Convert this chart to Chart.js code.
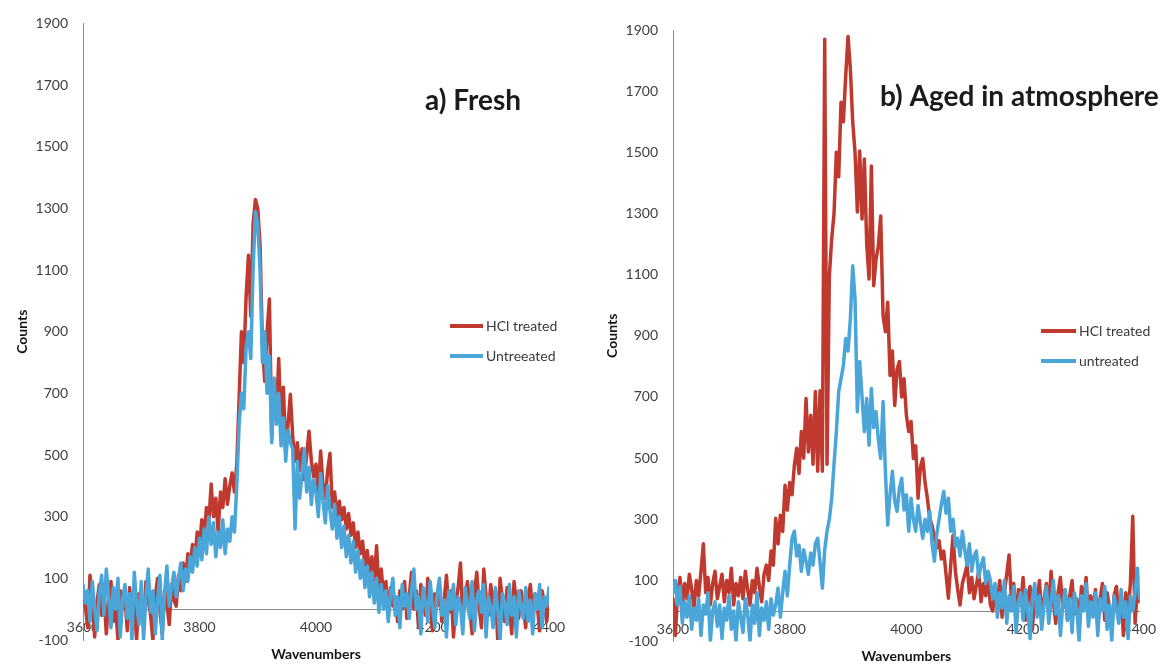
<!DOCTYPE html>
<html>
<head>
<meta charset="utf-8">
<script src="https://cdn.jsdelivr.net/npm/chart.js@4.4.1/dist/chart.umd.min.js"></script>
<style>
  html, body { margin: 0; padding: 0; background: #ffffff; }
  #wrap { position: relative; width: 1166px; height: 665px; overflow: hidden; }
  .panel { position: absolute; top: 0; width: 583px; height: 665px; }
</style>
</head>
<body>
<div id="wrap">
  <div class="panel" style="left:0"><canvas id="fresh" width="583" height="665"></canvas></div>
  <div class="panel" style="left:583px"><canvas id="aged" width="583" height="665"></canvas></div>
</div>
<script>
// Raman shift grid (cm-1), shared by every spectrum
const wavenumbers = [
  3600,3604,3608,3612,3616,3620,3624,3628,3632,3636,
  3640,3644,3648,3652,3656,3660,3664,3668,3672,3676,
  3680,3684,3688,3692,3696,3700,3704,3708,3712,3716,
  3720,3724,3728,3732,3736,3740,3744,3748,3752,3756,
  3760,3764,3768,3772,3776,3780,3784,3788,3792,3796,
  3800,3804,3808,3812,3816,3820,3824,3828,3832,3836,
  3840,3844,3848,3852,3856,3860,3864,3868,3872,3876,
  3880,3884,3888,3892,3896,3900,3904,3908,3912,3916,
  3920,3924,3928,3932,3936,3940,3944,3948,3952,3956,
  3960,3964,3968,3972,3976,3980,3984,3988,3992,3996,
  4000,4004,4008,4012,4016,4020,4024,4028,4032,4036,
  4040,4044,4048,4052,4056,4060,4064,4068,4072,4076,
  4080,4084,4088,4092,4096,4100,4104,4108,4112,4116,
  4120,4124,4128,4132,4136,4140,4144,4148,4152,4156,
  4160,4164,4168,4172,4176,4180,4184,4188,4192,4196,
  4200,4204,4208,4212,4216,4220,4224,4228,4232,4236,
  4240,4244,4248,4252,4256,4260,4264,4268,4272,4276,
  4280,4284,4288,4292,4296,4300,4304,4308,4312,4316,
  4320,4324,4328,4332,4336,4340,4344,4348,4352,4356,
  4360,4364,4368,4372,4376,4380,4384,4388,4392,4396,
  4400
];

// a) Fresh sample
const freshHCl = [
  60, 10, -60, 110, 40, -90, 20, 80, -20, 50,
  -80, 30, 90, -40, 10, -100, 60, 0, 40, -70,
  70, -30, 20, -100, 50, 10, -60, 90, 30, -20,
  -100, 40, 100, 0, -80, 60, 20, -50, 80, 30,
  10, 110, 60, 150, 90, 180, 140, 210, 160, 250,
  200, 290, 240, 330, 280, 406, 300, 360, 250, 380,
  330, 423, 340, 400, 442, 380, 470, 684, 900, 800,
  1013, 1148, 950, 1250, 1329, 1300, 1180, 858, 739, 900,
  1006, 555, 700, 620, 813, 600, 720, 513, 600, 697,
  560, 480, 540, 450, 520, 420, 500, 577, 480, 430,
  470, 380, 513, 400, 360, 450, 506, 330, 380, 300,
  350, 290, 330, 260, 310, 240, 280, 200, 250, 180,
  220, 140, 190, 120, 170, 90, 206, 60, 130, 40,
  90, -20, 70, 10, 40, -40, 60, 0, 90, -30,
  40, 120, 0, 60, -60, 80, 20, -20, 100, 30,
  -70, 50, 10, 80, -40, 30, 110, -10, 60, -90,
  20, 70, 150, -30, 40, 90, 0, -80, 50, 120,
  10, -60, 130, 40, -20, 80, 0, 60, -100, 100,
  30, -40, 70, 10, -80, 90, 20, -30, 60, 0,
  -60, 40, 80, -20, 50, 10, -70, 60, 20, -40,
  30
];
const freshUntreated = [
  80, 20, 60, -40, 90, 0, -70, 50, 110, -20,
  130, 40, -60, 70, 0, 100, -90, 30, 80, -30,
  50, -100, 120, 20, -50, 90, -100, 40, 130, -10,
  60, -80, 30, 110, -100, 50, 140, 10, 70, 120,
  40, 100, 150, 60, 130, 90, 170, 120, 200, 140,
  230, 160, 260, 180, 300, 210, 280, 170, 250, 200,
  290, 180, 260, 220, 300, 250, 400, 600, 700, 650,
  850, 900, 813, 1100, 1290, 1250, 1100, 800, 900, 700,
  820, 540, 750, 600, 700, 530, 620, 480, 580, 540,
  520, 260, 480, 360, 440, 520, 380, 460, 340, 420,
  380, 300, 440, 350, 280, 400, 320, 260, 340, 230,
  300, 200, 270, 170, 240, 150, 220, 120, 190, 100,
  160, 70, 140, 40, 120, 20, 100, -10, 80, 0,
  60, -40, 50, 100, -20, 40, -60, 80, 10, 50,
  -30, 60, 130, 0, 40, -80, 70, 20, -40, 90,
  10, -60, 50, 100, -20, 30, -90, 60, 0, 80,
  -50, 40, 10, -80, 70, 20, -30, 90, -70, 30,
  60, -10, 80, -90, 40, 10, -60, 70, 0, -100,
  50, 20, -50, 80, -20, 40, -90, 60, 10, -30,
  70, -40, 30, -80, 50, 0, 80, -60, 40, 10,
  70
];

// b) Sample aged in atmosphere
const agedHCl = [
  40, -80, 60, 110, 20, 90, 40, 120, 70, 10,
  100, 50, 130, 220, 60, 110, 20, 90, 130, 40,
  80, 120, 30, 100, 60, 140, 20, 90, 50, 110,
  40, 130, 70, 20, 100, 60, 140, 80, 30, 120,
  150, 100, 196, 150, 303, 220, 313, 260, 411, 330,
  420, 380, 476, 532, 450, 587, 500, 695, 520, 640,
  480, 718, 457, 720, 457, 1870, 480, 1096, 1217, 1300,
  1500, 1420, 1664, 1600, 1750, 1879, 1772, 1600, 1500, 1305,
  1504, 1282, 1478, 1200, 1086, 1455, 1064, 1150, 1194, 1292,
  966, 913, 1010, 770, 850, 672, 790, 816, 700, 760,
  640, 587, 620, 499, 540, 369, 470, 499, 420, 369,
  303, 280, 240, 206, 230, 170, 196, 120, 42, 150,
  248, 130, 70, 20, 90, 120, 150, 60, 110, 40,
  85, 130, 30, 90, 50, 110, 20, 0, 70, 30,
  100, -20, 60, 120, 183, 40, 90, -40, 70, 20,
  110, -30, 50, 80, -60, 60, 20, 100, -20, 40,
  90, 0, 130, 30, -40, 60, 110, 10, 70, -30,
  50, 100, -10, 40, -60, 80, 20, 110, -20, 50,
  0, 70, -50, 40, 90, -30, 60, 10, -60, 50,
  80, -20, 40, -80, 60, 0, 90, 310, -40, 80,
  30
];
const agedUntreated = [
  60, 100, 20, 80, -40, 30, -20, 50, -60, 10,
  -30, 40, -80, 20, -10, 60, -100, 0, 30, -50,
  20, -90, 10, -30, 50, -60, 0, -100, 30, -20,
  -70, 40, -10, -100, 20, -40, 60, -80, 10, -30,
  30, -60, 40, -13, 20, 75, -20, 60, 130, 50,
  150, 238, 261, 180, 215, 130, 200, 163, 120, 190,
  150, 220, 238, 160, 75, 200, 261, 300, 369, 480,
  587, 718, 760, 803, 891, 850, 956, 1129, 1021, 652,
  816, 700, 587, 695, 542, 728, 600, 652, 560, 499,
  685, 457, 281, 380, 457, 360, 326, 400, 434, 330,
  380, 261, 369, 300, 261, 345, 290, 238, 300, 260,
  326, 220, 163, 250, 300, 350, 391, 320, 369, 261,
  300, 210, 238, 180, 261, 200, 150, 220, 130, 180,
  196, 110, 150, 174, 90, 130, 100, 40, 90, -20,
  60, 10, 100, -40, 50, 0, 80, -70, 30, 60,
  -30, 70, 0, -90, 40, 90, -20, 50, -60, 20,
  80, -40, 30, 100, -10, 50, -80, 20, 70, -30,
  40, -70, 60, 10, -100, 50, 0, 90, -50, 30,
  -20, 60, -80, 40, 0, 80, -60, 20, -100, 50,
  10, -40, 70, -20, 30, -90, 50, 0, 60, 140,
  40
];

// Axis ticks
const xTickValues = [3600, 3800, 4000, 4200, 4400];
const yTickValues = [-100, 100, 300, 500, 700, 900, 1100, 1300, 1500, 1700, 1900];

const RED = '#c0392e';
const BLUE = '#4aa5d9';
const TICK_COLOR = '#3f3f3f';
const AXIS_COLOR = '#8a8a8a';

Chart.defaults.font.family = 'Lato, "Open Sans", sans-serif';

function toPoints(values) {
  return wavenumbers.map((w, i) => ({ x: w, y: values[i] }));
}

// Panel heading and the small line legend on the right of each plot
const panelDecor = {
  id: 'panelDecor',
  afterDraw(chart, args, o) {
    const ctx = chart.ctx;
    ctx.save();
    ctx.textBaseline = 'middle';
    ctx.textAlign = 'left';
    ctx.font = 'bold 28px Lato';
    ctx.fillStyle = '#1b1b1b';
    ctx.fillText(o.heading, o.headingX, o.headingY);
    chart.data.datasets.forEach((ds, row) => {
      const y = o.legendY + row * o.legendGap;
      ctx.strokeStyle = ds.borderColor;
      ctx.lineWidth = 4;
      ctx.lineCap = 'butt';
      ctx.beginPath();
      ctx.moveTo(o.legendX, y);
      ctx.lineTo(o.legendX + o.legendLen, y);
      ctx.stroke();
      ctx.font = '14px Lato';
      ctx.fillStyle = '#3a3a3a';
      ctx.fillText(ds.label, o.legendX + o.legendLen + 3, y);
    });
    ctx.restore();
  }
};

function makePanel(canvasId, p) {
  return new Chart(document.getElementById(canvasId), {
    type: 'line',
    data: {
      datasets: [
        { label: p.labels[0], data: toPoints(p.red), borderColor: RED, order: 2 },
        { label: p.labels[1], data: toPoints(p.blue), borderColor: BLUE, order: 1 }
      ]
    },
    plugins: [panelDecor],
    options: {
      responsive: false,
      animation: false,
      events: [],
      layout: { padding: p.padding },
      elements: {
        line: { borderWidth: 3.5, tension: 0, borderJoinStyle: 'round', borderCapStyle: 'round', fill: false },
        point: { radius: 0 }
      },
      plugins: {
        legend: { display: false },
        tooltip: { enabled: false },
        panelDecor: p.decor
      },
      scales: {
        x: {
          type: 'linear',
          position: { y: 0 },
          min: 3600,
          max: 4400,
          afterBuildTicks(scale) { scale.ticks = xTickValues.map(v => ({ value: v })); },
          ticks: {
            padding: 10, color: TICK_COLOR, font: { size: 14 },
            maxRotation: 0, autoSkip: false,
            callback: v => String(v)
          },
          grid: { display: false, drawTicks: false },
          border: { color: AXIS_COLOR, width: 1 },
          title: {
            display: true, text: 'Wavenumbers', color: '#151515',
            font: { size: 14, weight: 'bold' }, padding: 0
          }
        },
        y: {
          type: 'linear',
          min: -100,
          max: 1900,
          afterBuildTicks(scale) { scale.ticks = yTickValues.map(v => ({ value: v })); },
          ticks: {
            padding: 15, color: TICK_COLOR, font: { size: 14 },
            callback: v => String(v)
          },
          grid: { display: false, drawTicks: false },
          border: { color: AXIS_COLOR, width: 1 },
          title: {
            display: true, text: 'Counts', color: '#151515',
            font: { size: 14, weight: 'bold' }, padding: { top: p.yTitlePad, bottom: 0 }
          },
          afterFit(scale) { scale.width = p.axisX; }
        }
      }
    }
  });
}

makePanel('fresh', {
  red: freshHCl,
  blue: freshUntreated,
  labels: ['HCl treated', 'Untreeated'],
  padding: { left: 0, right: 34, top: 20, bottom: 25 },
  axisX: 83,
  yTitlePad: 14,
  decor: { heading: 'a) Fresh', headingX: 425, headingY: 101,
           legendX: 450, legendLen: 33, legendY: 326, legendGap: 30 }
});

makePanel('aged', {
  red: agedHCl,
  blue: agedUntreated,
  labels: ['HCl treated', 'untreated'],
  padding: { left: 0, right: 22, top: 30, bottom: 22 },
  axisX: 90,
  yTitlePad: 21,
  decor: { heading: 'b) Aged in atmosphere', headingX: 297, headingY: 97,
           legendX: 458, legendLen: 35, legendY: 331, legendGap: 30 }
});
</script>
</body>
</html>
